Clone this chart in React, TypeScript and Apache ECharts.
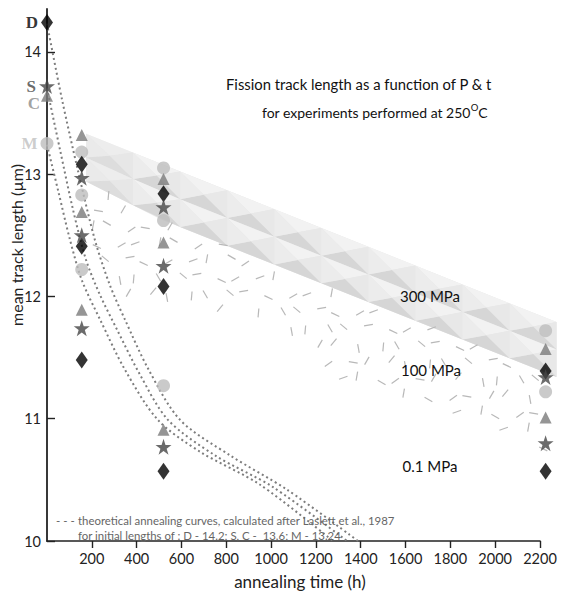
import React, { useEffect, useRef } from 'react';
import * as echarts from 'echarts';

// ---- data ----
const xTickValues = [200, 400, 600, 800, 1000, 1200, 1400, 1600, 1800, 2000, 2200];
const yTickValues = [10, 11, 12, 13, 14];

// mineral D (diamond)
const seriesD = [[0, 14.24], [155, 13.08], [155, 12.41], [155, 11.48], [520, 12.84], [520, 12.08], [520, 10.57], [2225, 11.39], [2225, 10.57]];
// mineral S (star)
const seriesS = [[0, 13.72], [155, 12.97], [155, 12.5], [155, 11.74], [520, 12.73], [520, 12.25], [520, 10.77], [2225, 11.34], [2225, 10.8]];
// mineral C (triangle)
const seriesC = [[0, 13.64], [155, 13.32], [155, 12.69], [155, 11.89], [520, 12.96], [520, 12.44], [520, 10.91], [2225, 11.57], [2225, 11.01]];
// mineral M (circle)
const seriesM = [[0, 13.25], [155, 13.18], [155, 12.83], [155, 12.22], [520, 13.05], [520, 12.62], [520, 11.27], [2225, 11.72], [2225, 11.22]];

// theoretical annealing curves (Laslett et al., 1987)
const curveD = [[0, 14.23], [67, 13.61], [138, 13.03], [214, 12.46], [281, 12.09], [348, 11.81], [451, 11.41], [594, 10.99], [817, 10.7], [1071, 10.42], [1388, 10.0]];
const curveSC = [[0, 13.7], [58, 13.2], [116, 12.71], [174, 12.3], [237, 12.01], [312, 11.73], [415, 11.36], [540, 10.99], [750, 10.7], [1009, 10.44], [1339, 10.0]];
const curveM = [[0, 13.24], [49, 12.87], [103, 12.46], [156, 12.13], [237, 11.81], [348, 11.4], [495, 10.99], [683, 10.73], [951, 10.46], [1276, 10.0]];

// pressure fields
const band300Top = [[174, 13.33], [2274, 11.79]];
const band300Bottom = [[174, 12.94], [507, 12.63], [2274, 11.34]];
const region100 = [[185, 12.9], [507, 12.63], [2225, 11.37], [2225, 10.66], [2020, 10.91], [1664, 11.16], [1264, 11.32], [1041, 11.73], [685, 11.95], [330, 11.9], [200, 12.3]];

const pressureLabels = ['300 MPa', '100 MPa', '0.1 MPa'];

const FONT = 'Lato';

function yAt(pts: number[][], x: number) {
  if (x <= pts[0][0]) return pts[0][1];
  for (let i = 1; i < pts.length; i++) {
    if (x <= pts[i][0]) {
      const [x0, y0] = pts[i - 1];
      const [x1, y1] = pts[i];
      return y0 + ((y1 - y0) * (x - x0)) / (x1 - x0);
    }
  }
  return pts[pts.length - 1][1];
}

function inside(poly: number[][], x: number, y: number) {
  let c = false;
  for (let i = 0, j = poly.length - 1; i < poly.length; j = i++) {
    const [xi, yi] = poly[i];
    const [xj, yj] = poly[j];
    if (yi > y !== yj > y && x < ((xj - xi) * (y - yi)) / (yj - yi) + xi) c = !c;
  }
  return c;
}

function renderBand(_params: any, api: any) {
  const top = band300Top.map((p) => api.coord(p));
  const bot = band300Bottom.map((p) => api.coord(p));
  const children: any[] = [];
  children.push({
    type: 'polygon',
    shape: { points: [...top, ...bot.slice().reverse()] },
    style: { fill: '#e6e6e6' },
  });
  const x0 = top[0][0];
  const x1 = top[top.length - 1][0];
  const n = Math.max(1, Math.round((x1 - x0) / 48));
  const w = (x1 - x0) / n;
  for (let i = 0; i < n; i++) {
    const xa = x0 + i * w;
    const xb = xa + w;
    const yTa = yAt(top, xa), yTb = yAt(top, xb);
    const yBa = yAt(bot, xa), yBb = yAt(bot, xb);
    const yMa = (yTa + yBa) / 2, yMb = (yTb + yBb) / 2;
    const rows = [
      [[xa, yTa], [xb, yTb], [xb, yMb], [xa, yMa]],
      [[xa, yMa], [xb, yMb], [xb, yBb], [xa, yBa]],
    ];
    const fade = i === 0 ? 0.55 : 1;
    rows.forEach((r) => {
      const [a, b, c, d] = r;
      const e = [(a[0] + b[0] + c[0] + d[0]) / 4, (a[1] + b[1] + c[1] + d[1]) / 4];
      const tris = [
        [[a, b, e], '#f2f2f2'],
        [[b, c, e], '#e8e8e8'],
        [[c, d, e], '#d6d6d6'],
        [[d, a, e], '#ececec'],
      ];
      tris.forEach(([pts, fill]: any) => {
        children.push({ type: 'polygon', shape: { points: pts }, style: { fill, opacity: fade } });
      });
    });
  }
  return { type: 'group', children };
}

const dashAngles = [80, 25, -35, 95, 150, 10, 60, -20, 120, 40, 100, -50, 170, 30];

function renderDashes(_params: any, api: any) {
  const poly = region100.map((p) => api.coord(p));
  const xs = poly.map((p) => p[0]);
  const ys = poly.map((p) => p[1]);
  const minX = Math.min(...xs), maxX = Math.max(...xs);
  const minY = Math.min(...ys), maxY = Math.max(...ys);
  const children: any[] = [];
  let r = 0;
  for (let y = minY + 6; y < maxY; y += 17, r++) {
    let c = 0;
    for (let x = minX + (r % 2) * 10; x < maxX; x += 20, c++) {
      const jx = (((r * 31 + c * 17) % 7) - 3) * 1.6;
      const jy = (((r * 13 + c * 29) % 5) - 2) * 1.6;
      const px = x + jx, py = y + jy;
      if (!inside(poly, px, py)) continue;
      const ang = (dashAngles[(r * 5 + c * 3) % dashAngles.length] * Math.PI) / 180;
      const len = 9;
      const dx = (Math.cos(ang) * len) / 2, dy = (Math.sin(ang) * len) / 2;
      children.push({
        type: 'line',
        shape: { x1: px - dx, y1: py - dy, x2: px + dx, y2: py + dy },
        style: { stroke: '#b8b8b8', lineWidth: 1.2 },
      });
    }
  }
  return { type: 'group', children };
}

const STAR = 'path://M50,0 L61.8,35.1 98.6,35.1 68.8,56.9 80.2,91.9 50,70.2 19.8,91.9 31.2,56.9 1.4,35.1 38.2,35.1 Z';

function withLabel(data: number[][], text: string, color: string, offset: number[]) {
  return data.map((p, i) =>
    i === 0
      ? {
          value: p,
          label: {
            show: true,
            position: 'left',
            distance: 3,
            formatter: text,
            color,
            fontFamily: 'Liberation Serif',
            fontWeight: 'bold',
            fontSize: 17,
            offset,
          },
        }
      : p
  );
}

const curveStyle = { color: '#7d7d7d', width: 2, type: [2, 3] as any };

const txt = (x: number, y: number, text: string, extra: any = {}) => ({
  type: 'text',
  x,
  y,
  z: 20,
  style: { text, fontFamily: FONT, fontSize: 15, fill: '#111', verticalAlign: 'middle', ...extra },
});

const option: any = {
  animation: false,
  backgroundColor: '#ffffff',
  grid: { left: 47, right: 35, top: 9, bottom: 53, outerBoundsMode: 'none', containLabel: false },
  xAxis: {
    type: 'value',
    min: 0,
    max: 2200,
    interval: 200,
    splitLine: { show: false },
    axisLine: { show: true, onZero: false, lineStyle: { color: '#222', width: 1.6 } },
    axisTick: { show: true, inside: false, length: 7, customValues: xTickValues, lineStyle: { color: '#222', width: 1.4 } },
    axisLabel: { customValues: xTickValues, formatter: (v: number) => String(v), fontFamily: FONT, fontSize: 14.5, color: '#222', margin: 10 },
  },
  yAxis: {
    type: 'value',
    min: 10,
    max: 14.35,
    interval: 1,
    splitLine: { show: false },
    axisLine: { show: true, onZero: false, lineStyle: { color: '#222', width: 1.8 } },
    axisTick: { show: true, inside: true, length: 8, customValues: yTickValues, lineStyle: { color: '#222', width: 1.4 } },
    axisLabel: { customValues: yTickValues, formatter: (v: number) => String(v), fontFamily: FONT, fontSize: 14.5, color: '#222', margin: 6 },
  },
  series: [
    { type: 'custom', renderItem: renderBand, data: [[0, 12]], z: 1, silent: true, clip: false },
    { type: 'custom', renderItem: renderDashes, data: [[0, 12]], z: 1, silent: true, clip: false },
    { type: 'line', data: curveD, showSymbol: false, smooth: 0.3, lineStyle: curveStyle, z: 3 },
    { type: 'line', data: curveSC, showSymbol: false, smooth: 0.3, lineStyle: curveStyle, z: 3 },
    { type: 'line', data: curveM, showSymbol: false, smooth: 0.3, lineStyle: curveStyle, z: 3 },
    {
      type: 'scatter', data: withLabel(seriesM, 'M', '#c0c0c0', [0, 0]), symbol: 'circle', symbolSize: 13,
      itemStyle: { color: '#bdbdbd' }, z: 5, clip: false,
    },
    {
      type: 'scatter', data: withLabel(seriesC, 'C', '#8a8a8a', [2, 8]), symbol: 'triangle', symbolSize: [12, 12],
      itemStyle: { color: '#7a7a7a' }, z: 5, clip: false,
    },
    {
      type: 'scatter', data: withLabel(seriesS, 'S', '#444', [0, 0]), symbol: STAR, symbolSize: 16,
      itemStyle: { color: '#464646' }, z: 6, clip: false,
    },
    {
      type: 'scatter', data: withLabel(seriesD, 'D', '#000', [0, 0]), symbol: 'diamond', symbolSize: [12, 17],
      itemStyle: { color: '#000' }, z: 5, clip: false,
    },
  ],
  graphic: [
    txt(226, 84, 'Fission track length as a function of P & t', { fontSize: 14.8 }),
    txt(262, 112, 'for experiments performed at 250{sup|O}C', {
      fontSize: 14,
      rich: { sup: { fontFamily: FONT, fontSize: 9.5, fill: '#111', padding: [0, 0, 9, 0] } },
    }),
    txt(430, 296, pressureLabels[0], { align: 'center' }),
    txt(431, 370, pressureLabels[1], { align: 'center' }),
    txt(430, 466, pressureLabels[2], { align: 'center' }),
    txt(56, 520, '- - -', { fontSize: 11.5, fill: '#666' }),
    txt(78, 520, 'theoretical annealing curves, calculated after Laslett et al., 1987', { fontSize: 11.4, fill: '#666' }),
    txt(78, 535, 'for initial lengths of : D - 14.2; S, C -  13.6; M - 13.24', { fontSize: 11.4, fill: '#666' }),
    txt(300, 581, 'annealing time (h)', { fontSize: 17, fill: '#222', align: 'center' }),
    { type: 'text', x: 16, y: 245, rotation: Math.PI / 2, z: 20,
      style: { text: 'mean track length (\u00b5m)', fontFamily: FONT, fontSize: 16, fill: '#222', align: 'center', verticalAlign: 'middle' } },
  ],
};

export default function App() {
  const ref = useRef<HTMLDivElement>(null);
  useEffect(() => {
    const chart = echarts.init(ref.current!, null, { renderer: 'svg' });
    chart.setOption(option);
    return () => chart.dispose();
  }, []);
  return <div ref={ref} style={{ position: 'absolute', left: 0, top: 0, width: 575, height: 594 }} />;
}
